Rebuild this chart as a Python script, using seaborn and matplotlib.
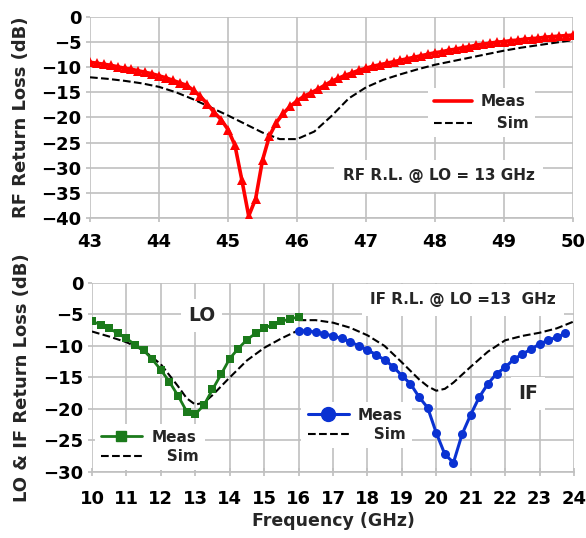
import matplotlib
matplotlib.use("Agg")
import matplotlib.pyplot as plt
import seaborn as sns
from matplotlib.lines import Line2D

# -----------------------------
# Data
# -----------------------------
# RF return loss, 43-50 GHz
rf_freq = [43.0, 43.1, 43.2, 43.3, 43.4, 43.5, 43.6, 43.7, 43.8, 43.9,
           44.0, 44.1, 44.2, 44.3, 44.4, 44.5, 44.6, 44.7, 44.8, 44.9,
           45.0, 45.1, 45.2, 45.3, 45.4, 45.5, 45.6, 45.7, 45.8, 45.9,
           46.0, 46.1, 46.2, 46.3, 46.4, 46.5, 46.6, 46.7, 46.8, 46.9,
           47.0, 47.1, 47.2, 47.3, 47.4, 47.5, 47.6, 47.7, 47.8, 47.9,
           48.0, 48.1, 48.2, 48.3, 48.4, 48.5, 48.6, 48.7, 48.8, 48.9,
           49.0, 49.1, 49.2, 49.3, 49.4, 49.5, 49.6, 49.7, 49.8, 49.9, 50.0]
rf_meas = [-9.0, -9.2, -9.4, -9.6, -9.9, -10.2, -10.4, -10.7, -11.0, -11.3,
           -11.7, -12.1, -12.6, -13.1, -13.6, -14.6, -15.8, -17.3, -19.0, -20.4,
           -22.4, -25.5, -32.4, -39.6, -36.2, -28.5, -23.7, -21.0, -19.2, -17.8,
           -16.7, -15.8, -15.1, -14.4, -13.6, -12.8, -12.2, -11.6, -11.1, -10.6,
           -10.2, -9.8, -9.5, -9.2, -8.9, -8.6, -8.3, -8.0, -7.7, -7.4,
           -7.1, -6.9, -6.6, -6.4, -6.1, -5.9, -5.6, -5.4, -5.2, -5.0,
           -4.9, -4.7, -4.6, -4.4, -4.3, -4.2, -4.0, -3.9, -3.8, -3.7, -3.6]
rf_sim_freq = [43.0, 43.25, 43.5, 43.75, 44.0, 44.25, 44.5, 44.75, 45.0, 45.25,
               45.5, 45.75, 46.0, 46.25, 46.5, 46.75, 47.0, 47.25, 47.5, 47.75,
               48.0, 48.25, 48.5, 48.75, 49.0, 49.25, 49.5, 49.75, 50.0]
rf_sim = [-12.0, -12.3, -12.7, -13.2, -13.9, -15.0, -16.4, -18.0, -19.6, -21.3,
          -23.0, -24.3, -24.3, -22.8, -19.7, -16.2, -14.0, -12.5, -11.4, -10.4,
          -9.5, -8.8, -8.1, -7.4, -6.7, -6.1, -5.6, -5.1, -4.6]

# LO return loss, 10-16 GHz
lo_freq = [10.0, 10.25, 10.5, 10.75, 11.0, 11.25, 11.5, 11.75, 12.0, 12.25,
           12.5, 12.75, 13.0, 13.25, 13.5, 13.75, 14.0, 14.25, 14.5, 14.75,
           15.0, 15.25, 15.5, 15.75, 16.0]
lo_meas = [-6.1, -6.6, -7.2, -8.0, -8.8, -9.8, -10.7, -12.1, -13.8, -15.7,
           -17.9, -20.4, -20.8, -19.4, -16.9, -14.5, -12.0, -10.4, -9.0, -8.0,
           -7.2, -6.6, -6.1, -5.7, -5.4]
lo_sim_freq = [10.0, 10.5, 11.0, 11.5, 12.0, 12.5, 12.75, 13.0, 13.25, 13.5,
               14.0, 14.5, 15.0, 15.5, 16.0]
lo_sim = [-7.7, -8.5, -9.4, -10.7, -12.9, -16.4, -18.3, -19.3, -19.0, -17.8,
          -15.0, -12.3, -10.3, -8.8, -7.5]

# IF return loss, 16-24 GHz
if_freq = [16.0, 16.25, 16.5, 16.75, 17.0, 17.25, 17.5, 17.75, 18.0, 18.25,
           18.5, 18.75, 19.0, 19.25, 19.5, 19.75, 20.0, 20.25, 20.5, 20.75,
           21.0, 21.25, 21.5, 21.75, 22.0, 22.25, 22.5, 22.75, 23.0, 23.25,
           23.5, 23.75]
if_meas = [-7.6, -7.6, -7.8, -8.1, -8.4, -8.8, -9.3, -10.0, -10.6, -11.4,
           -12.2, -13.3, -14.7, -16.0, -18.1, -19.8, -23.8, -27.2, -28.5, -24.0,
           -20.9, -18.1, -16.0, -14.4, -13.4, -12.1, -11.3, -10.5, -9.7, -9.1,
           -8.6, -8.0]
if_sim_freq = [16.0, 16.5, 17.0, 17.5, 18.0, 18.5, 19.0, 19.5, 19.75, 20.0,
               20.25, 20.5, 21.0, 21.5, 22.0, 22.5, 23.0, 23.5, 24.0]
if_sim = [-5.9, -5.9, -6.3, -7.1, -8.3, -10.0, -12.6, -15.3, -16.4, -17.1,
          -16.8, -15.8, -13.3, -10.9, -9.1, -8.4, -7.9, -7.2, -6.1]

rf_ticks = [43, 44, 45, 46, 47, 48, 49, 50]
rf_yticks = [0, -5, -10, -15, -20, -25, -30, -35, -40]
low_ticks = list(range(10, 25))
low_yticks = [0, -5, -10, -15, -20, -25, -30]

# -----------------------------
# Style
# -----------------------------
sns.set_theme(style="whitegrid")
plt.rcParams['font.family'] = ['DejaVu Sans']
plt.rcParams['font.weight'] = 'bold'
plt.rcParams['axes.labelweight'] = 'bold'

RED = "#ff0000"
GREEN = "#1b7a1b"
BLUE = "#0a32d2"
GRID = "#c0c0c0"

fig = plt.figure(figsize=(5.86, 5.38), dpi=100)
ax1 = fig.add_axes([0.1536, 0.5948, 0.8242, 0.3736])
ax2 = fig.add_axes([0.1570, 0.1227, 0.8225, 0.3513])

for ax in (ax1, ax2):
    ax.set_facecolor("white")
    ax.grid(True, color=GRID, lw=1.2)
    for s in ax.spines.values():
        s.set_visible(False)
    ax.spines['bottom'].set_visible(True)
    ax.spines['bottom'].set_color(GRID)
    ax.spines['bottom'].set_linewidth(1.2)
    ax.tick_params(axis='y', left=True, length=3, color=GRID, pad=3,
                   labelsize=13, labelcolor='black')

# -----------------------------
# Top: RF return loss
# -----------------------------
sns.lineplot(x=rf_freq, y=rf_meas, ax=ax1, color=RED, lw=2.6, marker='^',
             markersize=7.5, markeredgewidth=0, zorder=4)
sns.lineplot(x=rf_sim_freq, y=rf_sim, ax=ax1, color='black', lw=1.5,
             linestyle='--', zorder=3)
ax1.set_xlim(43, 50)
ax1.set_ylim(-40, 0)
ax1.set_xticks(rf_ticks)
ax1.set_yticks(rf_yticks)
ax1.tick_params(axis='x', bottom=True, length=3, color=GRID, pad=7.5,
                labelsize=13, labelcolor='black')
ax1.set_ylabel("RF Return Loss (dB)", fontsize=13, labelpad=8)

h1 = [Line2D([], [], color=RED, lw=2.6),
      Line2D([], [], color='black', lw=1.5, linestyle='--')]
leg1 = ax1.legend(h1, ["Meas", "   Sim"], loc='center',
                  bbox_to_anchor=(0.81, 0.525), frameon=True, facecolor='white',
                  edgecolor='none', framealpha=1, fontsize=11, handlelength=2.5,
                  handletextpad=0.6, labelspacing=0.45, borderpad=0.4)
leg1.get_frame().set_linewidth(0)

ax1.text(48.05, -31.6, "RF R.L. @ LO = 13 GHz", fontsize=11, ha='center',
         va='center', bbox=dict(facecolor='white', edgecolor='none', pad=6))

# -----------------------------
# Bottom: LO & IF return loss
# -----------------------------
sns.lineplot(x=lo_freq, y=lo_meas, ax=ax2, color=GREEN, lw=2.0, marker='s',
             markersize=5.5, markeredgewidth=0, zorder=4)
sns.lineplot(x=lo_sim_freq, y=lo_sim, ax=ax2, color='black', lw=1.5,
             linestyle='--', zorder=3)
sns.lineplot(x=if_freq, y=if_meas, ax=ax2, color=BLUE, lw=2.2, marker='o',
             markersize=6.5, markeredgewidth=0, zorder=4)
sns.lineplot(x=if_sim_freq, y=if_sim, ax=ax2, color='black', lw=1.5,
             linestyle='--', zorder=3)
ax2.set_xlim(10, 24)
ax2.set_ylim(-30, 0)
ax2.set_xticks(low_ticks)
ax2.set_yticks(low_yticks)
ax2.tick_params(axis='x', bottom=True, direction='inout', length=6, color=GRID,
                pad=10, labelsize=13, labelcolor='black')
ax2.set_ylabel("LO & IF Return Loss (dB)", fontsize=13, labelpad=9)
ax2.set_xlabel("Frequency (GHz)", fontsize=12.5, labelpad=3)

h_lo = [Line2D([], [], color=GREEN, lw=2.0, marker='s', markersize=7.5),
        Line2D([], [], color='black', lw=1.5, linestyle='--')]
leg_lo = ax2.legend(h_lo, ["Meas", "   Sim"], loc='center',
                    bbox_to_anchor=(0.12, 0.132), facecolor='white',
                    edgecolor='none', framealpha=1, fontsize=11,
                    handlelength=2.7, handletextpad=0.6, labelspacing=0.3,
                    borderpad=0.4, numpoints=1)
ax2.add_artist(leg_lo)
h_if = [Line2D([], [], color=BLUE, lw=2.2, marker='o', markersize=10),
        Line2D([], [], color='black', lw=1.5, linestyle='--')]
ax2.legend(h_if, ["Meas", "   Sim"], loc='center',
           bbox_to_anchor=(0.549, 0.249), facecolor='white',
           edgecolor='none', framealpha=1, fontsize=11,
           handlelength=2.7, handletextpad=0.6, labelspacing=0.3,
           borderpad=0.4, numpoints=1)

ax2.text(13.19, -5.1, "LO", fontsize=13.5, ha='center', va='center',
         bbox=dict(facecolor='white', edgecolor='none', pad=5))
ax2.text(22.66, -17.5, "IF", fontsize=13.5, ha='center', va='center',
         bbox=dict(facecolor='white', edgecolor='none', pad=5))
ax2.text(20.78, -2.7, "IF R.L. @ LO =13  GHz", fontsize=11, ha='center',
         va='center', clip_on=False,
         bbox=dict(facecolor='white', edgecolor='none', pad=6))

fig.savefig("out.png", dpi=100, facecolor='white')
